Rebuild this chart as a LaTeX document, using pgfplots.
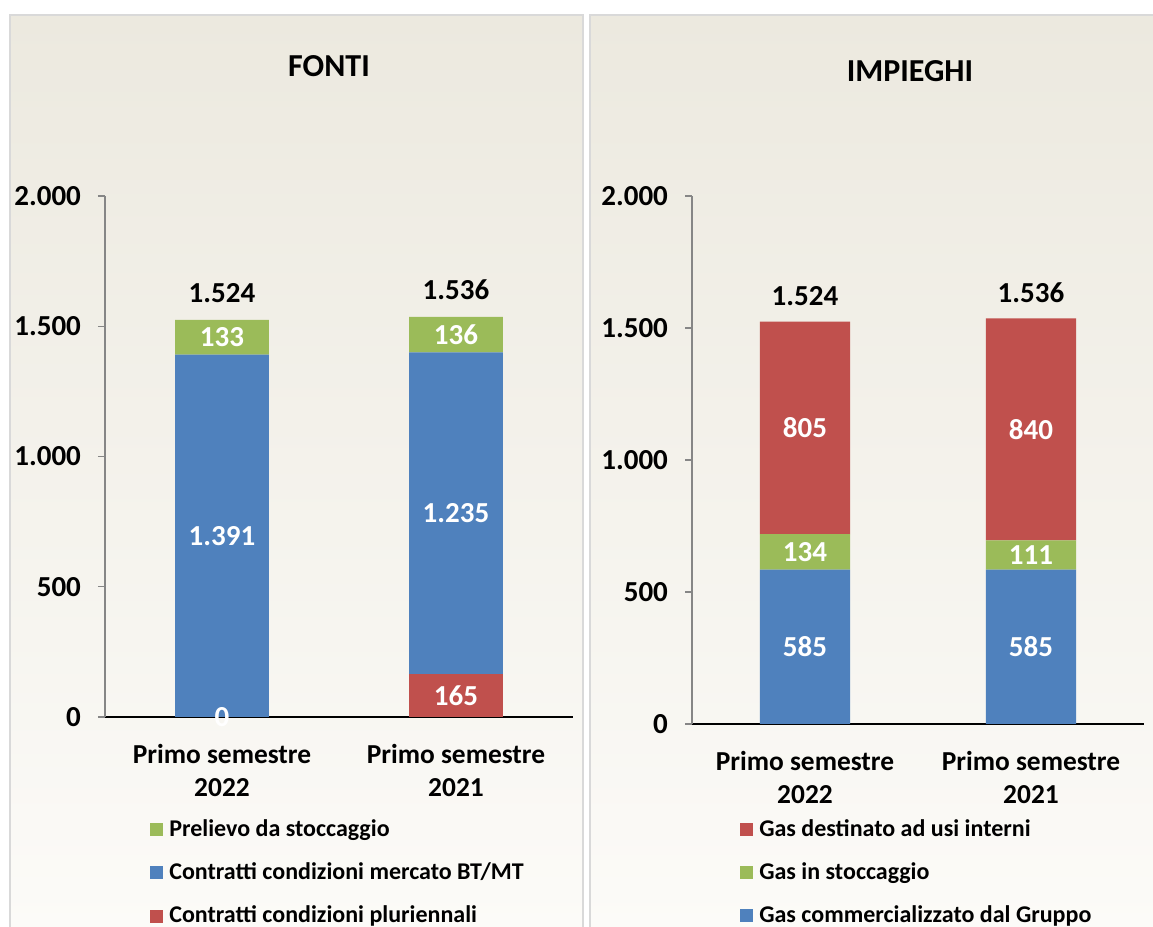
\documentclass[border=0pt]{standalone}
\usepackage{pgfplots}
\pgfplotsset{compat=1.18}
\usepackage{fontspec}
\setmainfont{Carlito}
\definecolor{cblue}{HTML}{4F81BD}
\definecolor{cred}{HTML}{C0504D}
\definecolor{cgreen}{HTML}{9BBB59}
\definecolor{cgray}{HTML}{868686}
\definecolor{bgtop}{HTML}{ECE9DF}
\definecolor{bgbot}{HTML}{FCFBF8}
\definecolor{panelborder}{HTML}{D9D9D9}
\newcommand{\lblfont}{\bfseries\fontsize{14.5}{17}\selectfont}
\newcommand{\catfont}{\bfseries\fontsize{13.7}{16.8}\selectfont}
\newcommand{\legfont}{\bfseries\fontsize{12}{14}\selectfont}
\pgfplotsset{
  midlabel/.style={
    nodes near coords,
    point meta=rawy,
    every node near coord/.style={anchor=center, text=white, font=\lblfont},
  },
  geom/.style={
    scale only axis, clip=false, enlargelimits=false,
    xmin=-0.5, xmax=1.5, ymin=0, ymax=2000,
  },
  panel/.style={
    geom,
    ybar stacked,
    bar width=0.4,
    axis x line*=bottom, axis y line*=left,
    axis line style={-},
    x axis line style={black, line width=0.7pt},
    y axis line style={cgray, line width=0.6pt},
    tick align=outside,
    xtick={0,1},
    x tick style={draw=none},
    minor xtick={-0.5,0.5,1.5},
    minor x tick style={black, line width=0.6pt},
    minor tick length=4pt,
    major tick length=3.5pt,
    ytick={0,500,1000,1500,2000},
    yticklabels={0,500,1.000,1.500,2.000},
    y tick style={cgray, line width=0.6pt},
    yticklabel style={font=\lblfont, xshift=-5pt},
    xticklabel style={font=\catfont, align=center, yshift=-6.5pt},
    /pgf/number format/1000 sep={.},
    /pgf/number format/assume math mode=true,
    title style={font=\bfseries\fontsize{16}{19}\selectfont, anchor=center},
    legend style={draw=none, fill=none, font=\legfont, anchor=north west,
      row sep=8.75pt, inner sep=0pt, nodes={inner sep=1.5pt},
      every odd column/.style={inner sep=0pt},
      column sep=0pt},
    legend cell align=left,
    reverse legend,
    legend image code/.code={\fill[##1,draw=none] (0pt,-3.25pt) rectangle (6.5pt,3.25pt); \path (8pt,0pt);},
  },
  totals/.style={
    draw=none, mark=none,
    point meta=explicit symbolic,
    nodes near coords,
    every node near coord/.style={anchor=center, text=black, font=\lblfont, yshift=#1},
  },
}
\begin{document}
\begin{tikzpicture}
\path[use as bounding box] (0,0) rectangle (576.5pt,463.5pt);
\shade[top color=bgtop, bottom color=bgbot] (5pt,-2pt) rectangle (291.5pt,456pt);
\draw[panelborder, line width=1pt] (5pt,-2pt) rectangle (291.5pt,456pt);
\shade[top color=bgtop, bottom color=bgbot] (295pt,-2pt) rectangle (580pt,456pt);
\draw[panelborder, line width=1pt] (295pt,-2pt) rectangle (580pt,456pt);

% FONTI
\begin{axis}[panel,
  at={(52.5pt,105pt)}, anchor=south west,
  width=234pt, height=260.5pt,
  title={FONTI},
  title style={at={(0.5,1)}, xshift=-5pt, yshift=59pt},
  xticklabels={{Primo semestre\\2022},{Primo semestre\\2021}},
  legend style={at={(0.096,-0.19)}},
]
\addplot[fill=cred, draw=none, midlabel] coordinates {(0,0) (1,165)};
\addlegendentry{Contratti condizioni pluriennali}
\addplot[fill=cblue, draw=none, midlabel] coordinates {(0,1391) (1,1235)};
\addlegendentry{Contratti condizioni mercato BT/MT}
\addplot[fill=cgreen, draw=none, midlabel] coordinates {(0,133) (1,136)};
\addlegendentry{Prelievo da stoccaggio}
\end{axis}
\begin{axis}[geom, hide axis,
  at={(52.5pt,105pt)}, anchor=south west,
  width=234pt, height=260.5pt]
\addplot[totals=13.5pt] coordinates {(0,1524) [1.524] (1,1536) [1.536]};
% zero-valued segment label (Contratti condizioni pluriennali, 2022)
\addplot[draw=none, mark=none, point meta=explicit symbolic, nodes near coords,
  every node near coord/.style={anchor=center, text=white, font=\lblfont}]
  coordinates {(0,0) [0]};
\end{axis}

% IMPIEGHI
\begin{axis}[panel,
  at={(346pt,101.5pt)}, anchor=south west,
  width=226pt, height=264pt,
  title={IMPIEGHI},
  title style={at={(0.5,1)}, xshift=-4pt, yshift=56.5pt},
  xticklabels={{Primo semestre\\2022},{Primo semestre\\2021}},
  legend style={at={(0.106,-0.174)}},
]
\addplot[fill=cblue, draw=none, midlabel] coordinates {(0,585) (1,585)};
\addlegendentry{Gas commercializzato dal Gruppo}
\addplot[fill=cgreen, draw=none, midlabel] coordinates {(0,134) (1,111)};
\addlegendentry{Gas in stoccaggio}
\addplot[fill=cred, draw=none, midlabel] coordinates {(0,805) (1,840)};
\addlegendentry{Gas destinato ad usi interni}
\end{axis}
\begin{axis}[geom, hide axis,
  at={(346pt,101.5pt)}, anchor=south west,
  width=226pt, height=264pt]
\addplot[totals=13pt] coordinates {(0,1524) [1.524] (1,1536) [1.536]};
\end{axis}
\end{tikzpicture}
\end{document}
